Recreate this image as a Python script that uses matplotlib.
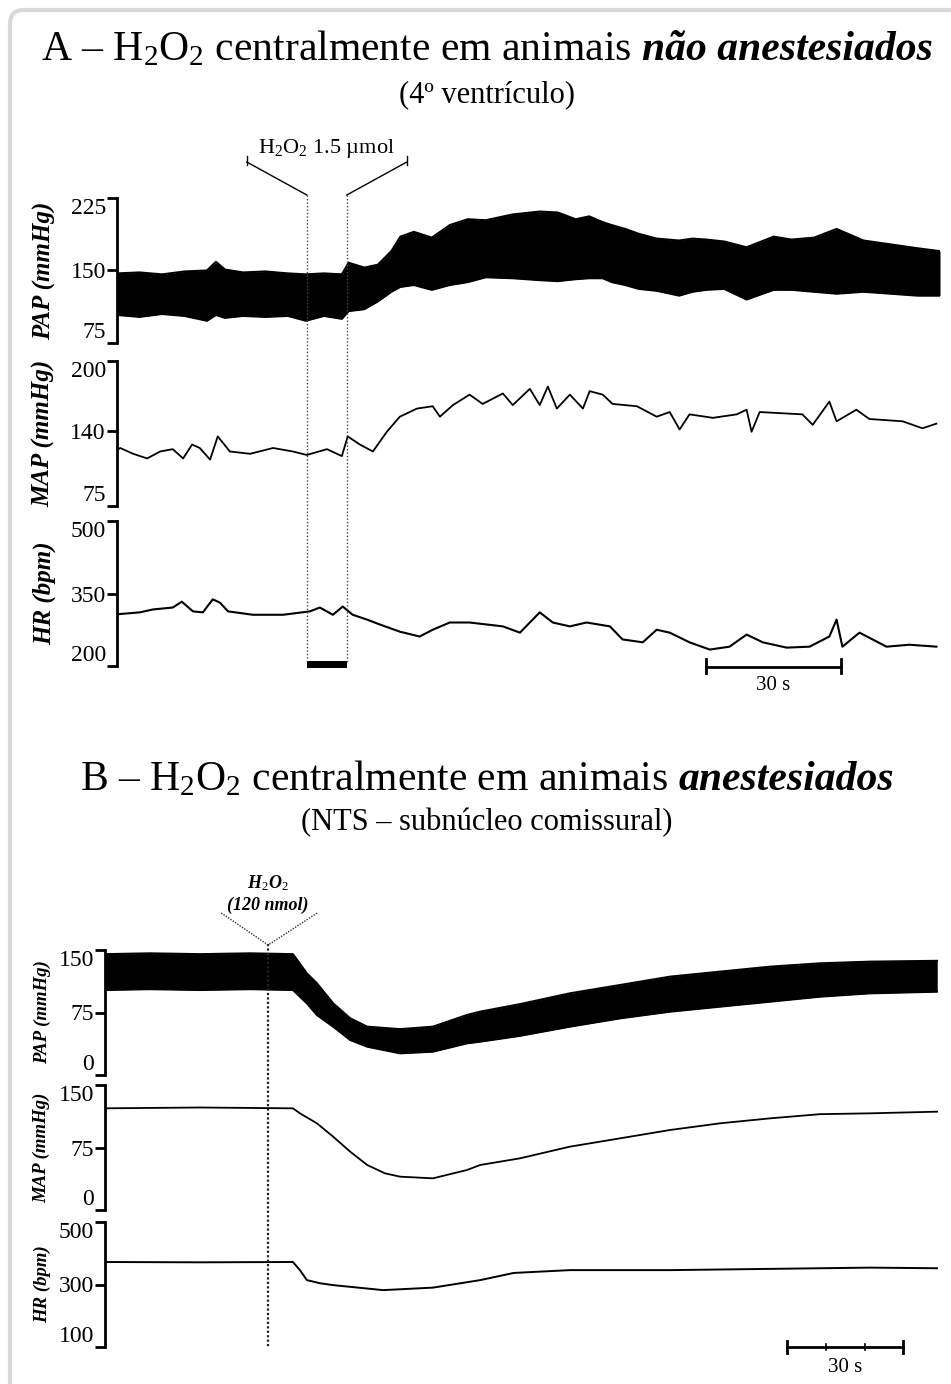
"""
H2O2 central injection - PAP / MAP / HR traces
(A) conscious rats, 4th ventricle   (B) anaesthetised rats, NTS commissural
"""
import matplotlib
matplotlib.use("Agg")
import matplotlib.pyplot as plt
from matplotlib.lines import Line2D
from matplotlib.patches import Rectangle, FancyBboxPatch
from matplotlib.transforms import blended_transform_factory

W, H = 951, 1384

# ── Panel A data (time in s) ──────────────────────────────────────
PAP_A_T = [0, 5, 10, 15, 20, 22, 24, 28, 33, 38, 42, 46, 50, 51.5, 55, 58,
           61, 63, 66, 70, 74, 78, 82, 88, 94, 98, 102, 105, 108, 110, 113,
           116, 120, 125, 128, 131, 135, 140, 146, 150, 155, 160, 166, 172,
           178, 183]
PAP_A_SYS = [147, 148, 146, 149, 150, 159, 151, 148, 149, 147, 146, 147, 146,
             158, 153, 156, 170, 185, 190, 184, 197, 203, 202, 208, 211, 210,
             203, 206, 200, 197, 193, 188, 183, 181, 183, 182, 180, 174, 185,
             182, 184, 193, 181, 177, 173, 170]
PAP_A_DIA = [104, 102, 105, 103, 98, 104, 101, 103, 102, 103, 98, 103, 100,
             108, 110, 118, 128, 133, 135, 130, 135, 138, 143, 142, 140, 139,
             141, 142, 142, 138, 135, 131, 129, 124, 128, 130, 131, 120, 130,
             130, 128, 126, 128, 126, 124, 124]

MAP_A_T = [0, 0.7, 3.6, 6.7, 9.6, 12.4, 14.7, 16.7, 18.4, 20.7, 22.4, 25.1,
           29.6, 34.7, 39.1, 42.2, 46.7, 50.0, 51.3, 54.0, 56.9, 60.0, 62.9,
           66.7, 70.2, 71.8, 74.7, 78.4, 81.3, 85.8, 88.0, 91.8, 94.0, 95.8,
           97.8, 100.7, 103.6, 105.1, 108.0, 110.2, 115.6, 120.0, 122.9, 125.1,
           127.3, 132.5, 137.8, 140.0, 141.1, 142.9, 152.4, 154.7, 158.4,
           160.0, 164.4, 167.3, 174.7, 179.1, 182.2]
MAP_A = [123, 125, 120, 116, 122, 124, 116, 128, 125, 115, 135, 122, 120, 125,
         122, 119, 124, 118, 135, 128, 122, 139, 152, 159, 161, 152, 162, 171,
         163, 172, 162, 176, 162, 178, 159, 171, 159, 174, 171, 163, 161, 152,
         156, 141, 154, 151, 154, 158, 139, 156, 154, 145, 165, 148, 158, 150,
         148, 142, 146]

HR_A_T = [0, 5.1, 8.0, 12.4, 14.4, 16.9, 19.1, 21.3, 22.9, 24.7, 30.2, 36.9,
          42.9, 45.1, 48.0, 50.2, 52.4, 55.6, 58.4, 62.9, 67.3, 70.2, 74.0,
          78.4, 85.8, 89.6, 94.0, 96.9, 100.7, 104.4, 109.6, 112.4, 116.9,
          120.0, 122.9, 127.3, 131.8, 136.2, 140.0, 143.6, 148.9, 154.0,
          158.4, 160.0, 161.3, 165.1, 171.1, 176.2, 182.2]
HR_A = [307, 311, 317, 321, 333, 313, 311, 338, 331, 313, 306, 306, 313, 321,
        306, 323, 306, 296, 286, 271, 261, 275, 290, 290, 282, 269, 311, 290,
        282, 290, 282, 255, 249, 275, 269, 249, 234, 240, 265, 249, 238, 240,
        261, 296, 240, 269, 240, 244, 240]

# ── Panel B data (time in s) ──────────────────────────────────────
PAP_B_T = [0, 11.6, 24.6, 37.5, 48.6, 52.2, 54.8, 59.0, 63.4, 67.8, 76.3,
           84.8, 93.6, 97.0, 107.3, 120.2, 133.2, 146.1, 159.0, 172.0, 184.9,
           197.8, 215.2]
PAP_B_SYS = [145, 146, 145, 146, 145, 122, 110, 86, 68, 58, 55, 58, 72, 76,
             85, 98, 108, 118, 124, 130, 134, 136, 137]
PAP_B_DIA = [102, 103, 102, 103, 102, 86, 72, 58, 42, 34, 26, 28, 38, 40, 47,
             58, 68, 76, 82, 88, 94, 98, 100]

MAP_B_T = [0, 24.6, 48.6, 50.4, 54.8, 59.0, 63.4, 67.8, 72.4, 76.3, 84.8,
           93.6, 97.0, 107.3, 120.2, 133.2, 146.1, 159.0, 172.0, 184.9, 197.8,
           215.2]
MAP_B = [122, 123, 122, 116, 104, 88, 70, 54, 44, 40, 38, 48, 54, 62, 76, 86,
         96, 104, 110, 115, 116, 118]

HR_B_T = [0, 24.6, 48.6, 50.4, 52.2, 55.6, 59.0, 71.9, 84.8, 97.0, 105.7,
          120.2, 146.1, 172.0, 197.8, 215.2]
HR_B = [372, 371, 372, 346, 314, 304, 298, 282, 290, 314, 337, 346, 346, 350,
        354, 352]

INJ_A = (42.2, 51.1)   # H2O2 1.5 umol, on / off
INJ_B = 42.2           # H2O2 120 nmol
BAR_A = 131.0          # start of the 30 s scale bars
BAR_B = 176.4

# ══════════════════════════════════════════════════════════════════
plt.rcParams.update({
    "font.family": "Liberation Serif",
    "mathtext.fontset": "custom",
    "mathtext.rm": "Liberation Serif",
    "mathtext.it": "Liberation Serif:italic",
    "mathtext.bf": "Liberation Serif:bold",
    "axes.unicode_minus": False,
})

fig = plt.figure(figsize=(W / 100, H / 100), dpi=100)
fig.patch.set_facecolor("white")

# overlay in pixel coordinates (y down) for annotations
ov = fig.add_axes([0, 0, 1, 1], zorder=5)
ov.set_xlim(0, W); ov.set_ylim(H, 0)
ov.axis("off")


def trace_ax(x0, x1, y0, y1, t_end, ylim, yticks, ylabel, lab_size, lab_x):
    ax = fig.add_axes([x0 / W, 1 - y1 / H, (x1 - x0) / W, (y1 - y0) / H])
    ax.set_xlim(0, t_end); ax.set_ylim(*ylim)
    ax.set_facecolor("none")
    for s in ("top", "right", "bottom"):
        ax.spines[s].set_visible(False)
    ax.spines["left"].set_linewidth(2)
    ax.set_xticks([])
    ax.set_yticks(yticks)
    ax.tick_params(axis="y", length=7, width=2, labelsize=17, pad=1)
    labs = ax.get_yticklabels()
    labs[0].set_va("bottom"); labs[-1].set_va("top")
    fig.text(lab_x / W, 1 - (y0 + y1) / 2 / H, ylabel, rotation=90,
             ha="center", va="center", fontsize=lab_size,
             fontstyle="italic", fontweight="bold")
    return ax


def title_runs(yb, runs, size, xc=487):
    r = fig.canvas.get_renderer()
    gap = size * 100 / 72 * 0.25
    objs = [fig.text(0, 1 - yb / H, s, fontsize=size, va="baseline", **kw)
            for s, kw in runs]
    ws = [o.get_window_extent(r).width for o in objs]
    x = xc - (sum(ws) + gap * (len(ws) - 1)) / 2
    for o, w in zip(objs, ws):
        o.set_x(x / W)
        x += w + gap


def pap_band(ax, t, sys_, dia):
    ax.fill_between(t, dia, sys_, color="black", lw=0)
    ax.plot(t, sys_, color="black", lw=1.5)
    ax.plot(t, dia, color="black", lw=1.5)


# ── Panel A ──────────────────────────────────────────────────────
TA = 183.0
axA_pap = trace_ax(117, 940, 198, 343, TA, (75, 225), [75, 150, 225],
                   "PAP (mmHg)", 18, 44)
axA_map = trace_ax(117, 940, 361, 506, TA, (75, 200), [75, 140, 200],
                   "MAP (mmHg)", 18, 44)
axA_hr = trace_ax(117, 940, 521, 666, TA, (200, 500), [200, 350, 500],
                  "HR (bpm)", 18, 44)
pap_band(axA_pap, PAP_A_T, PAP_A_SYS, PAP_A_DIA)
axA_map.plot(MAP_A_T, MAP_A, color="black", lw=1.3)
axA_hr.plot(HR_A_T, HR_A, color="black", lw=1.5)

title_runs(60, [("A – H$_2$O$_2$ centralmente em animais", {}),
                ("não anestesiados", {"fontweight": "bold",
                                      "fontstyle": "italic"})], 30)
fig.text(487 / W, 1 - 102 / H, "(4º ventrículo)", fontsize=22,
         ha="center", va="baseline")

bA = blended_transform_factory(axA_hr.transData, ov.transData)
for t in INJ_A:
    ov.add_line(Line2D([t, t], [195, 662], transform=bA, color="#444",
                       lw=1, ls=(0, (1, 1.5))))
ov.add_patch(Rectangle((INJ_A[0], 661), INJ_A[1] - INJ_A[0], 7,
                       transform=bA, color="black", lw=0))
x_on = axA_hr.transData.transform((INJ_A[0], 0))[0]
x_off = axA_hr.transData.transform((INJ_A[1], 0))[0]
ov.plot([x_on - 60, x_on], [162, 195], color="black", lw=1)
ov.plot([x_off + 60, x_off], [162, 195], color="black", lw=1)
for xe in (x_on - 60, x_off + 60):
    ov.plot([xe, xe], [156, 165], color="black", lw=1)
ov.text((x_on + x_off) / 2, 148, "H$_2$O$_2$ 1.5 µmol", fontsize=16,
        ha="center", va="center")

ov.add_line(Line2D([BAR_A, BAR_A + 30], [667, 667], transform=bA,
                   color="black", lw=2))
for t in (BAR_A, BAR_A + 30):
    ov.add_line(Line2D([t, t], [659, 673], transform=bA, color="black", lw=2))
ov.text(axA_hr.transData.transform((BAR_A + 15, 0))[0], 685, "30 s",
        fontsize=15, ha="center", va="center")

# ── Panel B ──────────────────────────────────────────────────────
TB = 215.4
axB_pap = trace_ax(105, 938, 950, 1075, TB, (0, 150), [0, 75, 150],
                   "PAP (mmHg)", 13.5, 42)
axB_map = trace_ax(105, 938, 1085, 1210, TB, (0, 150), [0, 75, 150],
                   "MAP (mmHg)", 13.5, 42)
axB_hr = trace_ax(105, 938, 1222, 1347, TB, (100, 500), [100, 300, 500],
                  "HR (bpm)", 13.5, 42)
pap_band(axB_pap, PAP_B_T, PAP_B_SYS, PAP_B_DIA)
axB_map.plot(MAP_B_T, MAP_B, color="black", lw=1.3)
axB_hr.plot(HR_B_T, HR_B, color="black", lw=1.4)

title_runs(790, [("B – H$_2$O$_2$ centralmente em animais", {}),
                 ("anestesiados", {"fontweight": "bold",
                                   "fontstyle": "italic"})], 30)
fig.text(487 / W, 1 - 830 / H, "(NTS – subnúcleo comissural)", fontsize=22,
         ha="center", va="baseline")

bB = blended_transform_factory(axB_hr.transData, ov.transData)
ov.add_line(Line2D([INJ_B, INJ_B], [944, 1347], transform=bB, color="#222",
                   lw=1.6, ls=(0, (1, 1))))
xb = axB_hr.transData.transform((INJ_B, 0))[0]
ov.plot([xb - 47, xb, xb + 49], [913, 945, 913], color="#333", lw=1,
        ls=(0, (1, 1)))
ov.text(xb, 883, "H$_2$O$_2$", fontsize=13, fontstyle="italic",
        fontweight="bold", ha="center", va="center")
ov.text(xb, 905, "(120 nmol)", fontsize=13, fontstyle="italic",
        fontweight="bold", ha="center", va="center")

ov.add_line(Line2D([BAR_B, BAR_B + 30], [1347, 1347], transform=bB,
                   color="black", lw=2))
for t in (BAR_B, BAR_B + 30):
    ov.add_line(Line2D([t, t], [1341, 1353], transform=bB, color="black",
                       lw=2))
for t in (BAR_B + 10, BAR_B + 20):
    ov.add_line(Line2D([t, t], [1344, 1350], transform=bB, color="black",
                       lw=1.2))
ov.text(axB_hr.transData.transform((BAR_B + 15, 0))[0], 1367, "30 s",
        fontsize=15, ha="center", va="center")

# outer rounded frame
ov.add_patch(FancyBboxPatch((10, 10), 990, 1420,
                            boxstyle="round,pad=0,rounding_size=14",
                            ec="#d9d9d9", fc="none", lw=3, clip_on=False))

fig.savefig("out.png", dpi=100)
